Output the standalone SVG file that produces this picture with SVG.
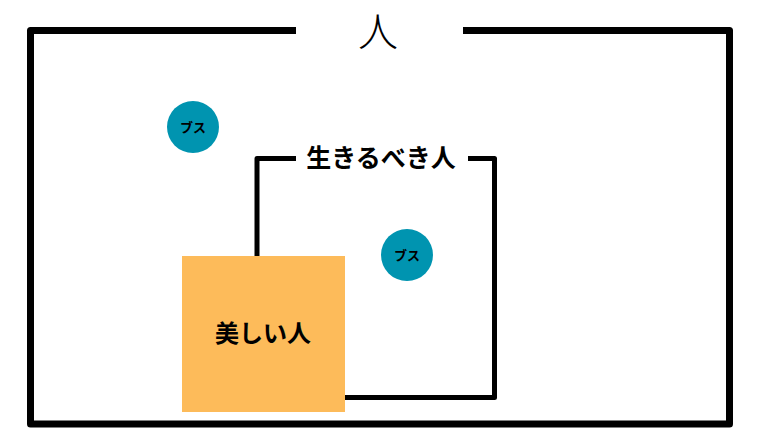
<svg xmlns="http://www.w3.org/2000/svg" width="760" height="428" viewBox="0 0 760 428">
<style>
.frame{fill:none;stroke:#000;stroke-linecap:square;stroke-linejoin:round}
.lbl{font-family:"Noto Sans CJK JP","Noto Sans CJK SC",sans-serif;fill:#000;text-anchor:middle}
.bus{fill:#0094B0}
</style>
<rect width="760" height="428" fill="#fff"/>
<g id="connectors">
<path class="frame" stroke-width="7" d="M292.5 30.5 H30.5 V424 H729.5 V30.5 H466.5"/>
<path class="frame" stroke-width="5" d="M257 256 V158.5 H293.5 M470.5 158.5 H494.5 V397.5 H345"/>
</g>
<g id="hito">
<text class="lbl" x="378" y="46" font-size="40" font-weight="300">人</text>
</g>
<g id="ikirubeki">
<text class="lbl" x="381" y="167" font-size="25" font-weight="bold">生きるべき人</text>
</g>
<g id="busu1">
<circle class="bus" cx="193" cy="127" r="26"/>
<text class="lbl" x="193" y="132" font-size="13" font-weight="bold">ブス</text>
</g>
<g id="busu2">
<circle class="bus" cx="407" cy="255" r="26"/>
<text class="lbl" x="407" y="260" font-size="13" font-weight="bold">ブス</text>
</g>
<g id="utsukushii">
<rect x="182" y="256" width="163" height="156" fill="#FDBB5A"/>
<text class="lbl" x="263" y="342" font-size="24" font-weight="bold">美しい人</text>
</g>
</svg>
